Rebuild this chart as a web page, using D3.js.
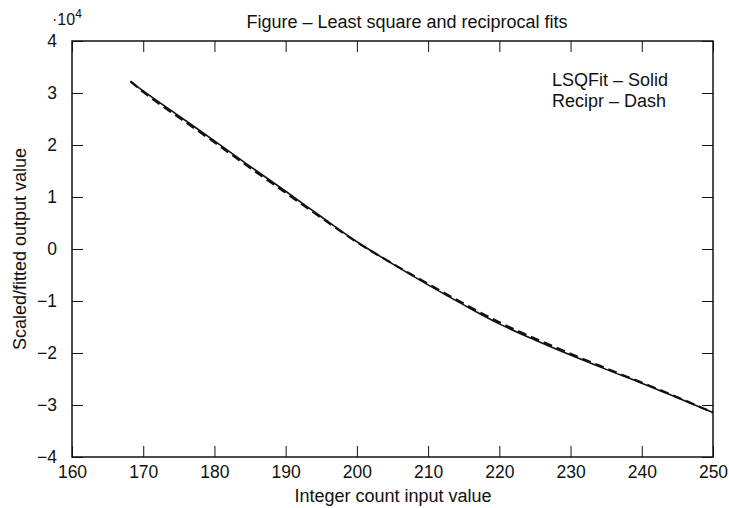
<!DOCTYPE html>
<html>
<head>
<meta charset="utf-8">
<script src="https://cdn.jsdelivr.net/npm/d3@7"></script>
<style>
  html, body { margin: 0; padding: 0; background: #fff; }
  svg { display: block; }
  text { font-family: "Liberation Sans", Arial, Helvetica, sans-serif; fill: #111; }
</style>
</head>
<body>
<svg id="chart" width="729" height="508"></svg>
<script>
// ---- data ----
const xValues = [168.2, 170, 175, 180, 185, 190, 195, 200, 205, 210, 215, 220, 225, 230, 235, 240, 245, 250];
const lsqFit  = [32250, 30400, 25600, 20800, 15900, 11100, 6200, 1400, -2850, -6900, -10750, -14400, -17500, -20400, -23150, -25800, -28600, -31450];
const recipr  = [32250, 30200, 25300, 20500, 15600, 10800, 6000, 1300, -2800, -6700, -10500, -14100, -17200, -20150, -22950, -25700, -28500, -31450];
const xTicks = [160, 170, 180, 190, 200, 210, 220, 230, 240, 250];
const yTicks = [-4, -3, -2, -1, 0, 1, 2, 3, 4];
const titleText = "Figure \u2013 Least square and reciprocal fits";
const xLabel = "Integer count input value";
const yLabel = "Scaled/fitted output value";
const legendLines = ["LSQFit \u2013 Solid", "Recipr \u2013 Dash"];

// ---- layout ----
const svg = d3.select("#chart");
const L = 72, R = 713, T = 41, B = 457;
const x = d3.scaleLinear().domain([160, 250]).range([L, R]);
const y = d3.scaleLinear().domain([-40000, 40000]).range([B, T]);
const fs = 18;      // titles / labels / legend
const tfs = 17.5;   // tick labels
const tickLen = 11;
const ink = "#111";

// frame
svg.append("rect").attr("x", L).attr("y", T).attr("width", R - L).attr("height", B - T)
  .attr("fill", "none").attr("stroke", ink).attr("stroke-width", 1.5);

function styleAxis(g) {
  g.select(".domain").remove();
  g.selectAll(".tick line").attr("stroke", ink).attr("stroke-width", 1);
  g.selectAll(".tick text").attr("font-size", tfs).attr("fill", ink)
    .style("font-family", '"Liberation Sans", Arial, sans-serif');
}

const fmtY = d => (d < 0 ? "\u2212" + Math.abs(d / 1e4) : String(d / 1e4));

svg.append("g").attr("transform", `translate(0,${B})`)
  .call(d3.axisBottom(x).tickValues(xTicks).tickSizeInner(-tickLen).tickSizeOuter(0).tickPadding(9).tickFormat(d3.format("d")))
  .call(styleAxis);
svg.append("g").attr("transform", `translate(0,${T})`)
  .call(d3.axisTop(x).tickValues(xTicks).tickSizeInner(-tickLen).tickSizeOuter(0).tickFormat(""))
  .call(styleAxis);
svg.append("g").attr("transform", `translate(${L},0)`)
  .call(d3.axisLeft(y).tickValues(yTicks.map(v => v * 1e4)).tickSizeInner(-tickLen).tickSizeOuter(0).tickPadding(15).tickFormat(fmtY))
  .call(styleAxis);
svg.append("g").attr("transform", `translate(${R},0)`)
  .call(d3.axisRight(y).tickValues(yTicks.map(v => v * 1e4)).tickSizeInner(-tickLen).tickSizeOuter(0).tickFormat(""))
  .call(styleAxis);

// exponent marker
const ex = svg.append("text").attr("x", 52).attr("y", 25).attr("font-size", 16);
ex.append("tspan").text("\u00b710");
ex.append("tspan").attr("dy", -7).attr("font-size", 12).text("4");

// curves
const line = d3.line().x((d, i) => x(xValues[i])).y(d => y(d)).curve(d3.curveMonotoneX);
svg.append("path").datum(recipr).attr("d", line)
  .attr("fill", "none").attr("stroke", ink).attr("stroke-width", 2.2).attr("stroke-dasharray", "9,5");
svg.append("path").datum(lsqFit).attr("d", line)
  .attr("fill", "none").attr("stroke", ink).attr("stroke-width", 1.6);

// title
svg.append("text").attr("x", 407).attr("y", 28).attr("text-anchor", "middle").attr("font-size", fs).text(titleText);
// x label
svg.append("text").attr("x", 393).attr("y", 502).attr("text-anchor", "middle").attr("font-size", fs).text(xLabel);
// y label
svg.append("text").attr("transform", `translate(26,${(T + B) / 2}) rotate(-90)`)
  .attr("text-anchor", "middle").attr("font-size", fs).text(yLabel);

// legend text
svg.append("g").selectAll("text").data(legendLines).join("text")
  .attr("x", 552).attr("y", (d, i) => 86 + i * 21).attr("font-size", fs).text(d => d);
</script>
</body>
</html>
